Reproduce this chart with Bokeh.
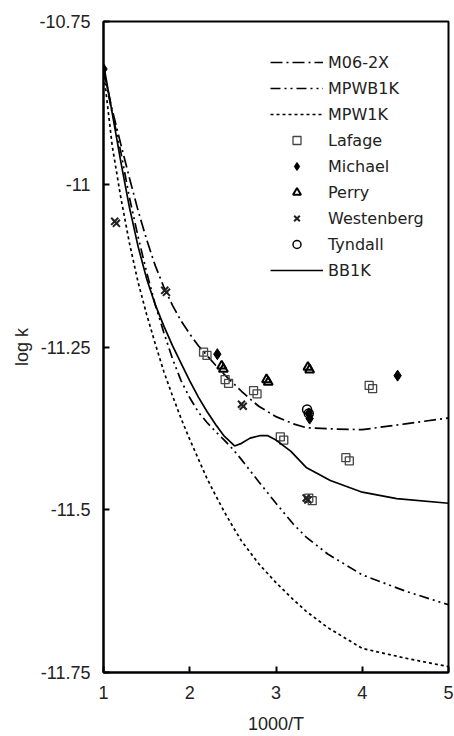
from bokeh.plotting import figure
from bokeh.models import Range1d, FixedTicker, Legend, LegendItem
from bokeh.embed import file_html
from bokeh.resources import INLINE

# ---- data ----
m06_x = [1.0, 1.1, 1.2, 1.3, 1.4, 1.5, 1.6, 1.7, 1.8, 1.9, 2.0, 2.1, 2.2, 2.3, 2.4, 2.5,
         2.6, 2.7, 2.8, 3.0, 3.2, 3.35, 3.7, 4.0, 4.5, 5.0]
m06_y = [-10.825, -10.885, -10.938, -10.99, -11.04, -11.085, -11.125, -11.158, -11.186,
         -11.21, -11.23, -11.248, -11.263, -11.278, -11.292, -11.305, -11.318, -11.33,
         -11.341, -11.357, -11.368, -11.374, -11.376, -11.377, -11.368, -11.359]

mpwb1k_x = [1.0, 1.1, 1.2, 1.3, 1.4, 1.5, 1.6, 1.7, 1.8, 1.9, 2.0, 2.1, 2.2, 2.3, 2.4, 2.5,
            2.6, 2.7, 2.8, 3.0, 3.2, 3.35, 3.6, 4.0, 4.5, 5.0]
mpwb1k_y = [-10.825, -10.89, -10.95, -11.02, -11.08, -11.135, -11.185, -11.228, -11.268,
            -11.302, -11.328, -11.35, -11.366, -11.38, -11.393, -11.407, -11.423, -11.44,
            -11.457, -11.49, -11.522, -11.542, -11.568, -11.600, -11.625, -11.646]

mpw1k_x = [1.0, 1.1, 1.2, 1.3, 1.4, 1.5, 1.6, 1.7, 1.8, 1.9, 2.0, 2.1, 2.2, 2.3, 2.4, 2.5,
           2.6, 2.8, 3.0, 3.2, 3.35, 3.6, 4.0, 4.5, 5.0]
mpw1k_y = [-10.825, -10.94, -11.02, -11.09, -11.15, -11.2, -11.245, -11.288, -11.325,
           -11.36, -11.392, -11.422, -11.452, -11.478, -11.503, -11.526, -11.548, -11.583,
           -11.612, -11.638, -11.656, -11.681, -11.713, -11.728, -11.741]

bb1k_x = [1.0, 1.1, 1.2, 1.3, 1.4, 1.5, 1.6, 1.7, 1.8, 1.9, 2.0, 2.1, 2.2, 2.3, 2.4, 2.52,
          2.6, 2.7, 2.82, 2.9, 3.0, 3.17, 3.35, 3.63, 4.0, 4.4, 5.0]
bb1k_y = [-10.815, -10.89, -10.965, -11.035, -11.095, -11.145, -11.185, -11.218, -11.248,
          -11.275, -11.302, -11.327, -11.349, -11.369, -11.387, -11.402, -11.398, -11.39,
          -11.386, -11.386, -11.393, -11.41, -11.435, -11.455, -11.473, -11.483, -11.49]

lafage_x = [2.16, 2.20, 2.41, 2.45, 2.74, 2.78, 3.05, 3.09, 3.81, 3.85, 4.08, 4.12, 3.38, 3.42]
lafage_y = [-11.258, -11.263, -11.300, -11.306, -11.317, -11.322, -11.388, -11.393, -11.420,
            -11.425, -11.309, -11.314, -11.482, -11.486]

michael_x = [1.0, 2.32, 3.38, 3.39, 4.41]
michael_y = [-10.823, -11.261, -11.352, -11.360, -11.294]

perry_x = [2.37, 2.39, 2.89, 2.91, 3.37, 3.39]
perry_y = [-11.279, -11.284, -11.300, -11.304, -11.281, -11.285]

westenberg_x = [1.13, 1.15, 1.71, 1.73, 2.60, 2.62, 3.35, 3.37]
westenberg_y = [-11.057, -11.060, -11.163, -11.166, -11.338, -11.341, -11.482, -11.485]

tyndall_x = [3.36, 3.38]
tyndall_y = [-11.346, -11.352]

x_ticks = [1, 2, 3, 4, 5]
y_ticks = [-11.75, -11.5, -11.25, -11.0, -10.75]
y_tick_labels = ["-11.75", "-11.5", "-11.25", "-11", "-10.75"]
x_tick_labels = ["1", "2", "3", "4", "5"]

TICK_FONT = "Liberation Sans"
LEG_FONT = "DejaVu Sans"

p = figure(width=454, height=736, x_range=Range1d(1, 5), y_range=Range1d(-11.75, -10.75),
           output_backend="svg", toolbar_location=None,
           min_border_left=103, min_border_right=6, min_border_top=21, min_border_bottom=60)

p.xgrid.visible = False
p.ygrid.visible = False
p.background_fill_color = "white"
p.border_fill_color = "white"
p.outline_line_color = "black"
p.outline_line_width = 2

for ax in (p.xaxis[0], p.yaxis[0]):
    ax.axis_line_color = "black"
    ax.axis_line_width = 2
    ax.major_tick_in = 6
    ax.major_tick_out = 0
    ax.major_tick_line_width = 2
    ax.minor_tick_line_color = None
    ax.major_label_text_font = TICK_FONT
    ax.major_label_text_font_size = "18px"
    ax.major_label_text_color = "#222222"
    ax.axis_label_text_font = TICK_FONT
    ax.axis_label_text_font_size = "18px"
    ax.axis_label_text_font_style = "normal"
    ax.axis_label_text_color = "#222222"

p.xaxis.ticker = FixedTicker(ticks=x_ticks)
p.yaxis.ticker = FixedTicker(ticks=y_ticks)
p.xaxis.major_label_overrides = {t: l for t, l in zip(x_ticks, x_tick_labels)}
p.yaxis.major_label_overrides = {t: l for t, l in zip(y_ticks, y_tick_labels)}
p.xaxis.axis_label = "1000/T"
p.yaxis.axis_label = "log k"
p.xaxis.major_label_standoff = 13
p.yaxis.major_label_standoff = 13
p.xaxis.axis_label_standoff = 12
p.yaxis.axis_label_standoff = 4

r_m06 = p.line(m06_x, m06_y, line_color="black", line_width=1.7, line_dash="12 4 2 4")
r_mpwb = p.line(mpwb1k_x, mpwb1k_y, line_color="black", line_width=1.7, line_dash="10 4 2 4 2 4")
r_mpw = p.line(mpw1k_x, mpw1k_y, line_color="black", line_width=1.7, line_dash="3 3")
r_laf = p.scatter(lafage_x, lafage_y, marker="square", size=8, fill_color=None,
                  line_color="#444444", line_width=1.3)
r_mic = p.scatter(michael_x, michael_y, marker="diamond", size=11,
                  fill_color="black", line_color="black")
r_per = p.scatter(perry_x, perry_y, marker="triangle", size=9, fill_color=None,
                  line_color="black", line_width=2)
r_wes = p.scatter(westenberg_x, westenberg_y, marker="x", size=10, line_color="#222222",
                  line_width=2)
r_tyn = p.scatter(tyndall_x, tyndall_y, marker="circle", size=9, fill_color=None,
                  line_color="black", line_width=1.5)
r_bb = p.line(bb1k_x, bb1k_y, line_color="black", line_width=1.7)

legend = Legend(items=[
    LegendItem(label="M06-2X", renderers=[r_m06]),
    LegendItem(label="MPWB1K", renderers=[r_mpwb]),
    LegendItem(label="MPW1K", renderers=[r_mpw]),
    LegendItem(label="Lafage", renderers=[r_laf]),
    LegendItem(label="Michael", renderers=[r_mic]),
    LegendItem(label="Perry", renderers=[r_per]),
    LegendItem(label="Westenberg", renderers=[r_wes]),
    LegendItem(label="Tyndall", renderers=[r_tyn]),
    LegendItem(label="BB1K", renderers=[r_bb]),
], location=(167, 392))
legend.background_fill_alpha = 0
legend.border_line_color = None
legend.padding = 0
legend.margin = 0
legend.glyph_width = 53
legend.glyph_height = 20
legend.label_height = 20
legend.spacing = 6
legend.label_standoff = 5
legend.label_text_font = LEG_FONT
legend.label_text_font_size = "16px"
legend.label_text_color = "#222222"
p.add_layout(legend, "center")

open("out.html", "w").write(file_html(p, INLINE))
